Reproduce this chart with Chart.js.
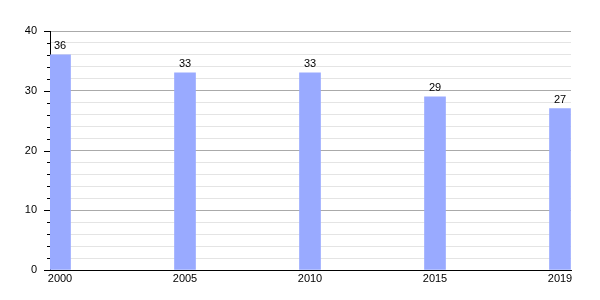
<!DOCTYPE html>
<html>
<head>
<meta charset="utf-8">
<script src="https://cdn.jsdelivr.net/npm/chart.js@4"></script>
<style>
  html, body { margin: 0; padding: 0; background: #fff; }
  #wrap { width: 600px; height: 300px; }
</style>
</head>
<body>
<div id="wrap"><canvas id="my-chart" width="600" height="300"></canvas></div>
<script>
const years = ["2000", "2005", "2010", "2015", "2019"];
const values = [36, 33, 33, 29, 27];
const yTicks = [0, 10, 20, 30, 40];

const font = { family: "'Liberation Sans', Arial, sans-serif", size: 11 };

// bar value labels + y axis tick marks
const extras = {
  id: "extras",
  afterDatasetsDraw(chart) {
    const ctx = chart.ctx;
    ctx.save();
    ctx.font = "11px 'Liberation Sans', Arial, sans-serif";
    ctx.fillStyle = "#000";
    ctx.textAlign = "center";
    ctx.textBaseline = "bottom";
    chart.getDatasetMeta(0).data.forEach((bar, i) => {
      ctx.fillText(values[i], bar.x, bar.y - 3);
    });
    const y = chart.scales.y;
    ctx.strokeStyle = "#000";
    ctx.lineWidth = 1;
    for (let v = 0; v <= 40; v += 2) {
      const py = Math.round(y.getPixelForValue(v)) + 0.5;
      const len = v % 10 === 0 ? 6 : 3;
      ctx.beginPath();
      ctx.moveTo(y.right - len, py);
      ctx.lineTo(y.right, py);
      ctx.stroke();
    }
    ctx.restore();
  }
};

let ctx = document.getElementById("my-chart").getContext("2d");
let chart = new Chart(ctx, {
  type: "bar",
  data: {
    datasets: [
      {
        data: values.map((v, i) => ({ x: i, y: v })),
        backgroundColor: "rgb(153, 170, 255)",
        borderWidth: 0,
        barThickness: 21,
      },
    ],
  },
  options: {
    responsive: false,
    animation: false,
    layout: { padding: { top: 31, right: 29, left: 0, bottom: 0 } },
    plugins: { legend: { display: false }, tooltip: { enabled: false } },
    scales: {
      x: {
        type: "linear",
        offset: false,
        min: -0.08,
        max: 4.088,
        afterBuildTicks: (scale) => {
          scale.ticks = years.map((_, i) => ({ value: i }));
        },
        afterFit: (scale) => { scale.height = 30; },
        grid: { display: false, drawTicks: false, offset: false },
        border: { display: true, color: "#000", width: 1 },
        ticks: {
          callback: (v) => years[v],
          color: "#000",
          font: font,
          padding: 2,
          maxRotation: 0,
        },
      },
      y: {
        min: 0,
        max: 40,
        afterBuildTicks: (scale) => {
          const t = [];
          for (let v = 0; v <= 40; v += 2) t.push({ value: v });
          scale.ticks = t;
        },
        afterFit: (scale) => { scale.width = 50; },
        grid: {
          drawTicks: false,
          color: (c) => (c.tick && c.tick.value % 10 === 0 ? "#aaaaaa" : "#e4e4e4"),
        },
        border: { display: true, color: "#000", width: 1 },
        ticks: {
          callback: (v) => (yTicks.includes(v) ? v : ""),
          color: "#000",
          font: font,
          padding: 13,
          autoSkip: false,
        },
      },
    },
  },
  plugins: [extras],
});
</script>
</body>
</html>
